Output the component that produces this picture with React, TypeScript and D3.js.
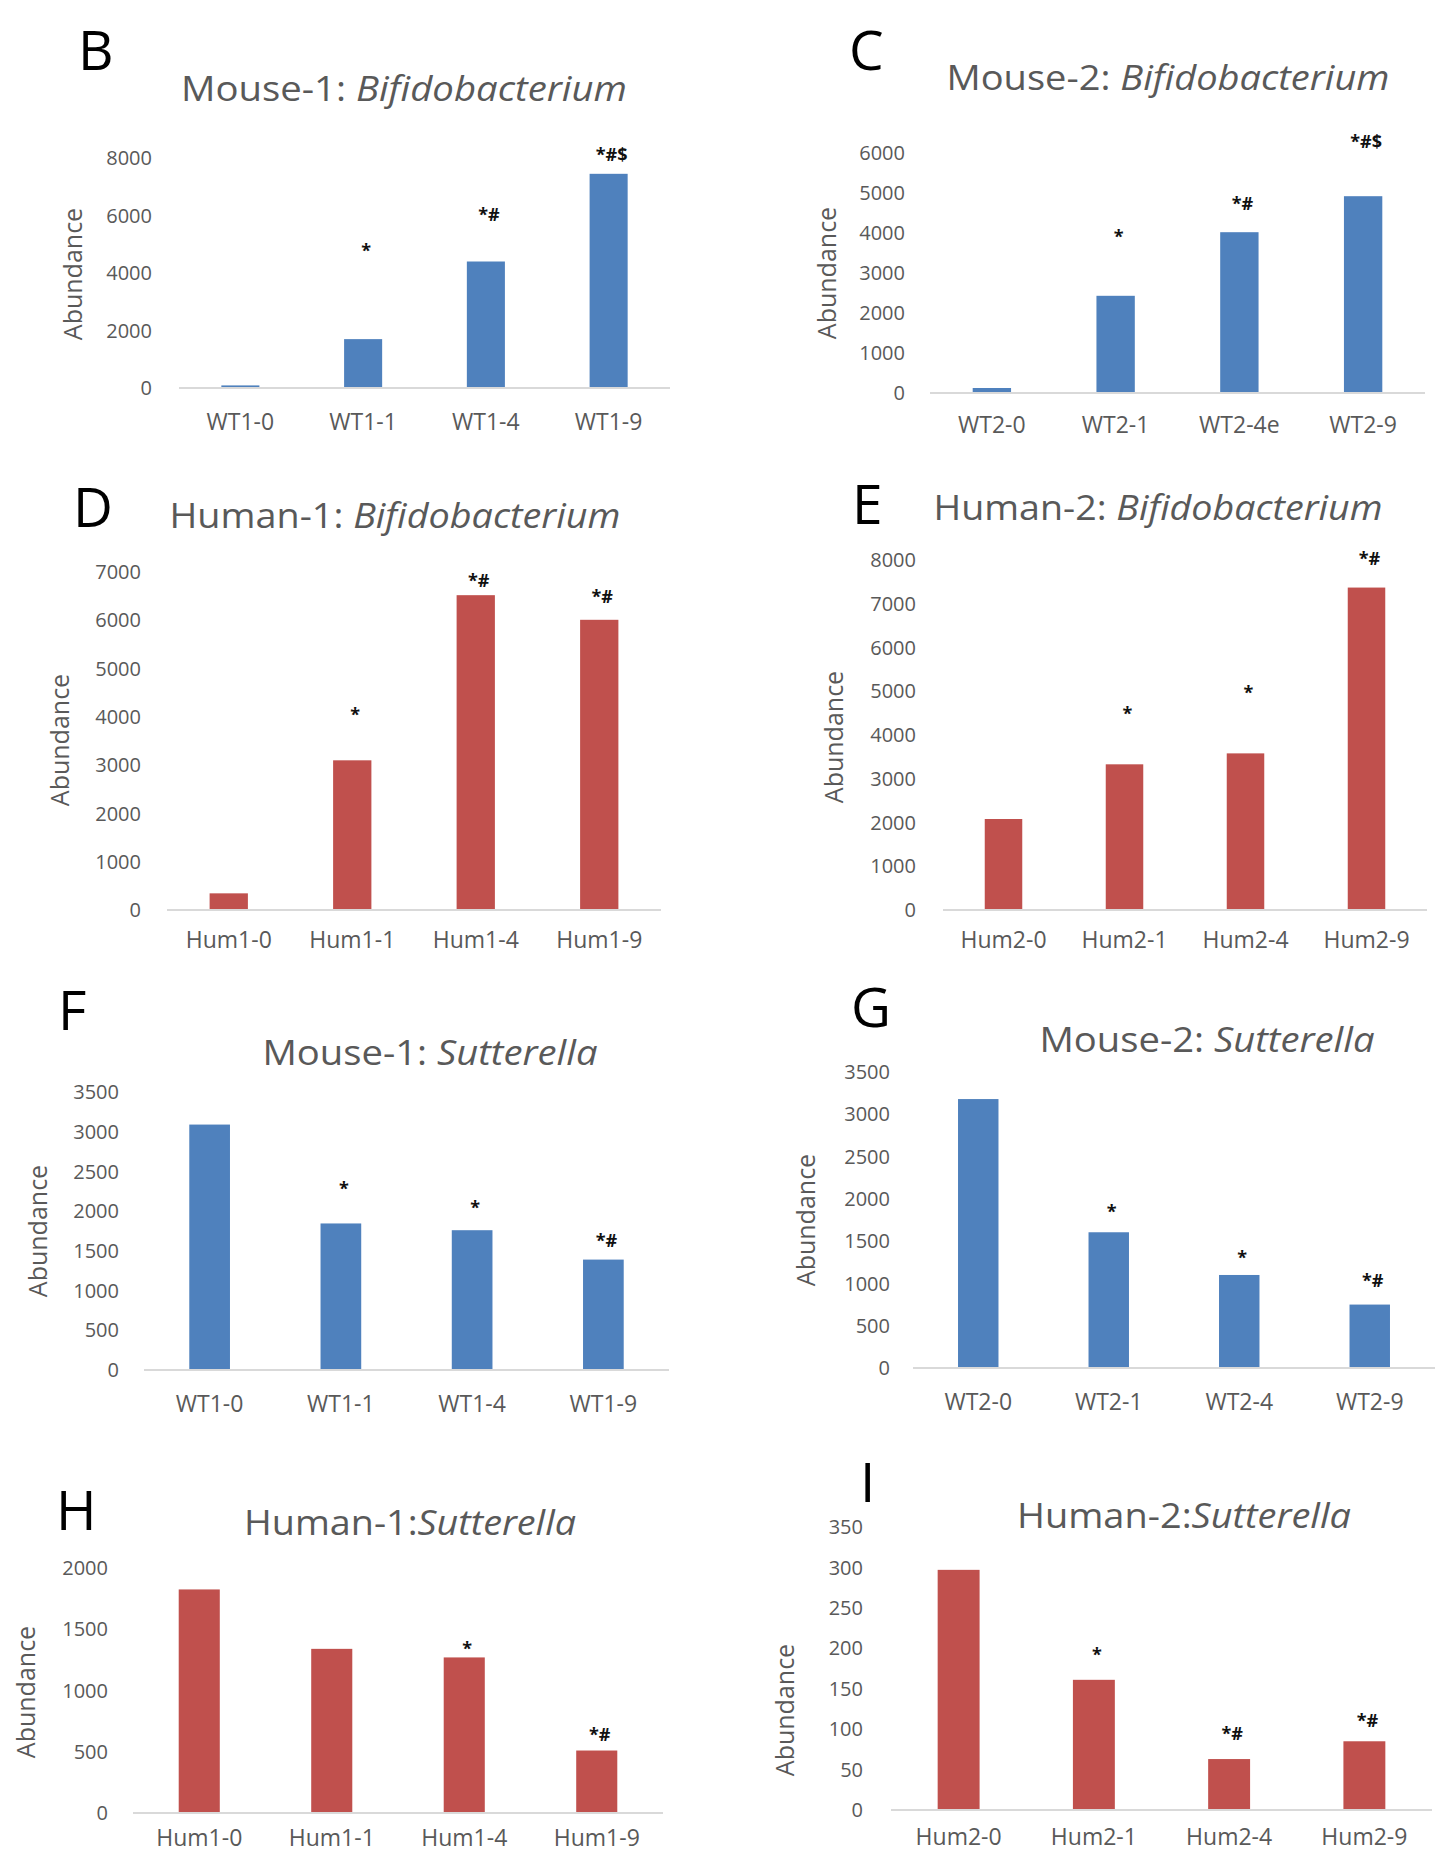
import React from "react";
import * as d3 from "d3";

const BLUE = "#4f81bd";
const RED = "#c0504d";
const GREY = "#595959";
const FONT = "'Open Sans', sans-serif";

// category labels
const wt1Labels = ["WT1-0", "WT1-1", "WT1-4", "WT1-9"];
const wt2BifLabels = ["WT2-0", "WT2-1", "WT2-4e", "WT2-9"];
const wt2Labels = ["WT2-0", "WT2-1", "WT2-4", "WT2-9"];
const hum1Labels = ["Hum1-0", "Hum1-1", "Hum1-4", "Hum1-9"];
const hum2Labels = ["Hum2-0", "Hum2-1", "Hum2-4", "Hum2-9"];

// abundance values
const bifMouse1 = [90, 1700, 4400, 7450];
const bifMouse2 = [125, 2430, 4020, 4920];
const bifHuman1 = [345, 3100, 6520, 6010];
const bifHuman2 = [2080, 3330, 3580, 7370];
const sutMouse1 = [3090, 1845, 1760, 1390];
const sutMouse2 = [3180, 1605, 1100, 750];
const sutHuman1 = [1825, 1340, 1270, 510];
const sutHuman2 = [297, 161, 63, 85];

// significance marks and the value level where each one sits
const bifMouse1Sig = ["", "*", "*#", "*#$"];
const bifMouse1SigAt = [0, 4850, 6090, 8170];
const bifMouse2Sig = ["", "*", "*#", "*#$"];
const bifMouse2SigAt = [0, 3960, 4790, 6330];
const bifHuman1Sig = ["", "*", "*#", "*#"];
const bifHuman1SigAt = [0, 4090, 6860, 6520];
const bifHuman2Sig = ["", "*", "*", "*#"];
const bifHuman2SigAt = [0, 4520, 5010, 8080];
const sutMouse1Sig = ["", "*", "*", "*#"];
const sutMouse1SigAt = [0, 2300, 2070, 1650];
const sutMouse2Sig = ["", "*", "*", "*#"];
const sutMouse2SigAt = [0, 1870, 1320, 1050];
const sutHuman1Sig = ["", "", "*", "*#"];
const sutHuman1SigAt = [0, 0, 1360, 650];
const sutHuman2Sig = ["", "*", "*#", "*#"];
const sutHuman2SigAt = [0, 194, 96, 113];

// y axis extents and tick steps
const yMaxes = [8000, 6000, 7000, 8000, 3500, 3500, 2000, 350];
const yTickSteps = [2000, 1000, 1000, 1000, 500, 500, 500, 50];

const panelLetters = ["B", "C", "D", "E", "F", "G", "H", "I"];
const titleHosts = ["Mouse-1: ", "Mouse-2: ", "Human-1: ", "Human-2: ", "Mouse-1: ", "Mouse-2: ", "Human-1:", "Human-2:"];
const titleTaxa = ["Bifidobacterium", "Bifidobacterium", "Bifidobacterium", "Bifidobacterium", "Sutterella", "Sutterella", "Sutterella", "Sutterella"];

const seriesData = [
  { cats: wt1Labels, values: bifMouse1, sig: bifMouse1Sig, sigAt: bifMouse1SigAt, color: BLUE },
  { cats: wt2BifLabels, values: bifMouse2, sig: bifMouse2Sig, sigAt: bifMouse2SigAt, color: BLUE },
  { cats: hum1Labels, values: bifHuman1, sig: bifHuman1Sig, sigAt: bifHuman1SigAt, color: RED },
  { cats: hum2Labels, values: bifHuman2, sig: bifHuman2Sig, sigAt: bifHuman2SigAt, color: RED },
  { cats: wt1Labels, values: sutMouse1, sig: sutMouse1Sig, sigAt: sutMouse1SigAt, color: BLUE },
  { cats: wt2Labels, values: sutMouse2, sig: sutMouse2Sig, sigAt: sutMouse2SigAt, color: BLUE },
  { cats: hum1Labels, values: sutHuman1, sig: sutHuman1Sig, sigAt: sutHuman1SigAt, color: RED },
  { cats: hum2Labels, values: sutHuman2, sig: sutHuman2Sig, sigAt: sutHuman2SigAt, color: RED },
];

// where each panel sits on the page (tw = title width)
const layouts = [
  { lx: 78, ly: 70, tx: 404, ty: 101, tw: 446, x0: 179, x1: 670, yb: 388, yt: 158, tr: 152, ax: 73, ay: 274, cy: 430 },
  { lx: 849, ly: 70, tx: 1168, ty: 90, tw: 443, x0: 930, x1: 1425, yb: 393, yt: 153, tr: 905, ax: 827, ay: 273, cy: 433 },
  { lx: 73, ly: 527, tx: 395, ty: 528, tw: 451, x0: 167, x1: 661, yb: 910, yt: 572, tr: 141, ax: 60, ay: 740, cy: 948 },
  { lx: 852, ly: 524, tx: 1158, ty: 520, tw: 449, x0: 943, x1: 1427, yb: 910, yt: 560, tr: 916, ax: 834, ay: 737, cy: 948 },
  { lx: 58, ly: 1030, tx: 430, ty: 1065, tw: 335, x0: 144, x1: 669, yb: 1370, yt: 1092, tr: 119, ax: 38, ay: 1231, cy: 1412 },
  { lx: 851, ly: 1027, tx: 1207, ty: 1052, tw: 335, x0: 913, x1: 1435, yb: 1368, yt: 1072, tr: 890, ax: 806, ay: 1220, cy: 1410 },
  { lx: 56, ly: 1530, tx: 410, ty: 1535, tw: 332, x0: 133, x1: 663, yb: 1813, yt: 1568, tr: 108, ax: 26, ay: 1692, cy: 1846 },
  { lx: 860, ly: 1502, tx: 1184, ty: 1528, tw: 334, x0: 891, x1: 1432, yb: 1810, yt: 1527, tr: 863, ax: 785, ay: 1710, cy: 1845 },
];

function Panel({ i }: { i: number }) {
  const d = seriesData[i];
  const L = layouts[i];
  const x = d3.scaleBand().domain(d.cats).range([L.x0, L.x1]).paddingInner(0.69).paddingOuter(0.345);
  const y = d3.scaleLinear().domain([0, yMaxes[i]]).range([L.yb, L.yt]);
  const ticks = d3.range(0, yMaxes[i] + 1e-9, yTickSteps[i]);
  const mid = (c: string) => (x(c) as number) + x.bandwidth() / 2;

  return (
    <g fontFamily={FONT}>
      <text x={L.lx} y={L.ly} fontSize={55} fill="#000">{panelLetters[i]}</text>
      <text
        x={L.tx}
        y={L.ty}
        fontSize={35}
        fill={GREY}
        textAnchor="middle"
        textLength={L.tw}
        lengthAdjust="spacingAndGlyphs"
      >
        {titleHosts[i]}
        <tspan fontStyle="italic">{titleTaxa[i]}</tspan>
      </text>

      {ticks.map((t) => (
        <text key={t} x={L.tr} y={y(t)} dy="0.36em" fontSize={20} fill={GREY} textAnchor="end">
          {t}
        </text>
      ))}

      <text
        transform={`translate(${L.ax},${L.ay}) rotate(-90)`}
        dy="0.36em"
        fontSize={25}
        fill={GREY}
        textAnchor="middle"
      >
        Abundance
      </text>

      {d.values.map((v, j) => (
        <rect
          key={j}
          x={x(d.cats[j])}
          y={y(v)}
          width={x.bandwidth()}
          height={L.yb - y(v)}
          fill={d.color}
        />
      ))}

      <line x1={L.x0} x2={L.x1} y1={L.yb} y2={L.yb} stroke="#d9d9d9" strokeWidth={2} />

      {d.cats.map((c) => (
        <text key={c} x={mid(c)} y={L.cy} fontSize={23} fill={GREY} textAnchor="middle">
          {c}
        </text>
      ))}

      {d.sig.map((s, j) =>
        s ? (
          <text
            key={"s" + j}
            x={mid(d.cats[j]) + 3}
            y={y(d.sigAt[j])}
            dy="0.45em"
            fontSize={18}
            fontWeight="bold"
            fill="#111"
            textAnchor="middle"
          >
            {s}
          </text>
        ) : null
      )}
    </g>
  );
}

export default function App() {
  return (
    <svg
      width={1444}
      height={1858}
      style={{ position: "absolute", left: 0, top: 0, display: "block", background: "#fff" }}
    >
      <rect width={1444} height={1858} fill="#fff" />
      {layouts.map((_, i) => (
        <Panel key={i} i={i} />
      ))}
    </svg>
  );
}
